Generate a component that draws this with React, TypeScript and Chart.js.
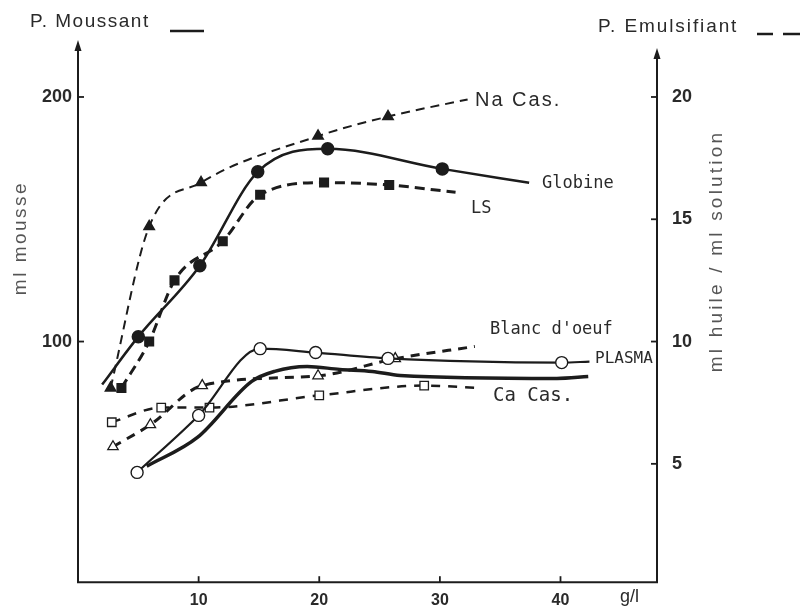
import { useEffect, useRef } from "react";
import { Chart, registerables } from "chart.js";
Chart.register(...registerables);

// ---- tick values ----
const xTicks = [10, 20, 30, 40];
const leftTicks = [100, 200];
const rightTicks = [5, 10, 15, 20];

// ---- P. Moussant (ml mousse, left axis, solid lines) ----
const globineX = [2.0, 5.0, 10.1, 14.9, 20.7, 30.2, 37.4];
const globineY = [82.4, 102, 131, 169.4, 178.8, 170.6, 164.9];
const globineMark = [0, 1, 1, 1, 1, 1, 0];

const plasmaX = [4.9, 10.0, 15.1, 19.7, 25.7, 40.1, 42.4];
const plasmaY = [46.5, 69.8, 97.1, 95.5, 93.1, 91.4, 91.8];
const plasmaMark = [1, 1, 1, 1, 1, 1, 0];

const foamBX = [5.7, 9.9, 14.4, 16.3, 19.0, 21.7, 24.4, 26.7, 39.7, 42.3];
const foamBY = [49.0, 60.8, 83.7, 87.8, 89.8, 88.6, 87.8, 86.1, 84.9, 85.7];

// ---- P. Emulsifiant (ml huile / ml solution, right axis, dashed lines) ----
const naCasX = [2.7, 5.9, 10.2, 19.9, 25.7, 32.3];
const naCasY = [8.1, 14.7, 16.5, 18.4, 19.2, 19.9];
const naCasMark = [1, 1, 1, 1, 1, 0];

const lsX = [3.6, 5.9, 8.0, 12.0, 15.1, 20.4, 25.8, 31.3];
const lsY = [8.1, 10.0, 12.5, 14.1, 16.0, 16.5, 16.4, 16.1];
const lsMark = [1, 1, 1, 1, 1, 1, 1, 0];

const blancX = [2.9, 6.0, 10.3, 19.9, 26.3, 32.9];
const blancY = [5.7, 6.6, 8.2, 8.6, 9.3, 9.8];
const blancMark = [1, 1, 1, 1, 1, 0];

const caCasX = [2.8, 6.9, 10.9, 20.0, 28.7, 33.3];
const caCasY = [6.7, 7.3, 7.3, 7.8, 8.2, 8.1];
const caCasMark = [1, 1, 1, 1, 1, 0];

const INK = "#1c1c1c";
const TEXT = "#2a2a2a";
const GREY = "#555";

function pts(xs: number[], ys: number[]) {
  return xs.map((x, i) => ({ x, y: ys[i] }));
}

const decor = {
  id: "decor",
  afterDraw(chart: any) {
    const { ctx, chartArea: a, scales } = chart;
    const xs = scales.x, yl = scales.y, yr = scales.y1;
    ctx.save();
    ctx.strokeStyle = INK;
    ctx.fillStyle = INK;
    ctx.lineWidth = 2;
    const seg = (x1: number, y1: number, x2: number, y2: number) => {
      ctx.beginPath(); ctx.moveTo(x1, y1); ctx.lineTo(x2, y2); ctx.stroke();
    };
    const arrow = (x: number, tip: number) => {
      ctx.beginPath(); ctx.moveTo(x, tip); ctx.lineTo(x - 3.5, tip + 11); ctx.lineTo(x + 3.5, tip + 11); ctx.closePath(); ctx.fill();
    };
    // axes
    seg(a.left - 1, a.bottom, a.right + 1, a.bottom);
    seg(a.left, a.bottom, a.left, a.top + 6);
    arrow(a.left, a.top);
    seg(a.right, a.bottom, a.right, a.top + 14);
    arrow(a.right, a.top + 8);
    // tick marks
    ctx.lineWidth = 1.8;
    xTicks.forEach(v => { const p = xs.getPixelForValue(v); seg(p, a.bottom, p, a.bottom - 6); });
    leftTicks.forEach(v => { const p = yl.getPixelForValue(v); seg(a.left, p, a.left + 6, p); });
    rightTicks.forEach(v => { const p = yr.getPixelForValue(v); seg(a.right - 6, p, a.right, p); });

    // header legends
    ctx.fillStyle = TEXT;
    ctx.textBaseline = "middle";
    ctx.textAlign = "left";
    ctx.font = '19px "Liberation Sans"';
    (ctx as any).letterSpacing = "1.5px";
    ctx.fillText("P. Moussant", 30, 22);
    (ctx as any).letterSpacing = "1.9px";
    ctx.fillText("P. Emulsifiant", 598, 27);
    ctx.lineWidth = 2.5;
    seg(170, 31, 204, 31);
    seg(757, 34, 773, 34);
    seg(783, 34, 800, 34);

    // axis titles
    ctx.fillStyle = GREY;
    ctx.font = '19px "Liberation Sans"';
    (ctx as any).letterSpacing = "2.5px";
    ctx.save();
    ctx.translate(21, 238);
    ctx.rotate(-Math.PI / 2);
    ctx.textAlign = "center";
    ctx.fillText("ml mousse", 0, 0);
    ctx.restore();
    ctx.save();
    ctx.translate(717, 251);
    ctx.rotate(-Math.PI / 2);
    ctx.textAlign = "center";
    (ctx as any).letterSpacing = "3.2px";
    ctx.fillText("ml huile / ml solution", 0, 0);
    ctx.restore();

    ctx.fillStyle = TEXT;
    (ctx as any).letterSpacing = "0px";
    ctx.font = '18px "Liberation Sans"';
    ctx.fillText("g/l", 620, 597);

    // series labels
    (ctx as any).letterSpacing = "2px";
    ctx.font = '20px "Liberation Sans"';
    ctx.fillText("Na Cas.", 475, 100);
    (ctx as any).letterSpacing = "0px";
    ctx.font = '17px "DejaVu Sans Mono"';
    ctx.fillText("Globine", 542, 184);
    ctx.fillText("LS", 471, 209);
    ctx.fillText("Blanc d'oeuf", 490, 330);
    ctx.font = '16px "DejaVu Sans Mono"';
    ctx.fillText("PLASMA", 595, 359);
    ctx.font = '19px "DejaVu Sans Mono"';
    ctx.fillText("Ca Cas.", 493, 396);
    ctx.restore();
  },
};

export default function App() {
  const ref = useRef<HTMLCanvasElement | null>(null);
  useEffect(() => {
    if (!ref.current) return;
    const radius = (m: number[], r: number) => m.map(v => (v ? r : 0));
    const chart = new Chart(ref.current, {
      type: "scatter",
      data: {
        datasets: [
          {
            label: "Globine", data: pts(globineX, globineY), yAxisID: "y", showLine: true,
            borderColor: INK, borderWidth: 2.5, pointStyle: "circle", pointRadius: radius(globineMark, 5.5),
            pointBackgroundColor: INK, pointBorderColor: INK, cubicInterpolationMode: "monotone",
          },
          {
            label: "PLASMA", data: pts(plasmaX, plasmaY), yAxisID: "y", showLine: true,
            borderColor: INK, borderWidth: 2.2, pointStyle: "circle", pointRadius: radius(plasmaMark, 6),
            pointBackgroundColor: "#fff", pointBorderColor: INK, pointBorderWidth: 1.4, cubicInterpolationMode: "monotone",
          },
          {
            label: "Mousse (sans symbole)", data: pts(foamBX, foamBY), yAxisID: "y", showLine: true,
            borderColor: INK, borderWidth: 3.5, pointRadius: 0, cubicInterpolationMode: "monotone",
          },
          {
            label: "Na Cas.", data: pts(naCasX, naCasY), yAxisID: "y1", showLine: true,
            borderColor: INK, borderWidth: 2, borderDash: [9, 6], pointStyle: "triangle", pointRadius: radius(naCasMark, 5.5),
            pointBackgroundColor: INK, pointBorderColor: INK, cubicInterpolationMode: "monotone",
          },
          {
            label: "LS", data: pts(lsX, lsY), yAxisID: "y1", showLine: true,
            borderColor: INK, borderWidth: 3, borderDash: [10, 6], pointStyle: "rect", pointRadius: radius(lsMark, 5),
            pointBackgroundColor: INK, pointBorderColor: INK, cubicInterpolationMode: "monotone",
          },
          {
            label: "Blanc d'oeuf", data: pts(blancX, blancY), yAxisID: "y1", showLine: true,
            borderColor: INK, borderWidth: 3, borderDash: [9, 7], pointStyle: "triangle", pointRadius: radius(blancMark, 6),
            pointBackgroundColor: "#fff", pointBorderColor: INK, pointBorderWidth: 1.3, cubicInterpolationMode: "monotone",
          },
          {
            label: "Ca Cas.", data: pts(caCasX, caCasY), yAxisID: "y1", showLine: true,
            borderColor: INK, borderWidth: 2.5, borderDash: [9, 8], pointStyle: "rect", pointRadius: radius(caCasMark, 6),
            pointBackgroundColor: "#fff", pointBorderColor: INK, pointBorderWidth: 1.3, cubicInterpolationMode: "monotone",
          },
        ] as any,
      },
      options: {
        animation: false,
        responsive: false,
        layout: { padding: { top: 40, left: 0, right: 0, bottom: 0 } },
        plugins: { legend: { display: false }, tooltip: { enabled: false } },
        scales: {
          x: {
            type: "linear", min: 0, max: 48, position: "bottom",
            grid: { display: false, drawTicks: false }, border: { display: false },
            afterBuildTicks: (s: any) => { s.ticks = xTicks.map(v => ({ value: v })); },
            afterFit: (s: any) => { s.height = 25; },
            ticks: { padding: 9, color: TEXT, font: { family: "Liberation Sans", size: 16, weight: "bold" }, maxRotation: 0 },
          },
          y: {
            type: "linear", min: 1.6, max: 223.3, position: "left",
            grid: { display: false, drawTicks: false }, border: { display: false },
            afterBuildTicks: (s: any) => { s.ticks = leftTicks.map(v => ({ value: v })); },
            afterFit: (s: any) => { s.width = 78; },
            ticks: { padding: 6, color: TEXT, font: { family: "Liberation Sans", size: 18, weight: "bold" } },
          },
          y1: {
            type: "linear", min: 0.16, max: 22.33, position: "right",
            grid: { display: false, drawTicks: false }, border: { display: false },
            afterBuildTicks: (s: any) => { s.ticks = rightTicks.map(v => ({ value: v })); },
            afterFit: (s: any) => { s.width = 145; },
            ticks: { padding: 15, color: TEXT, font: { family: "Liberation Sans", size: 18, weight: "bold" } },
          },
        },
      } as any,
      plugins: [decor],
    });
    return () => chart.destroy();
  }, []);
  return (
    <div style={{ position: "absolute", left: 0, top: 0, width: 802, height: 608, background: "#fff" }}>
      <canvas ref={ref} width={802} height={608} />
    </div>
  );
}
